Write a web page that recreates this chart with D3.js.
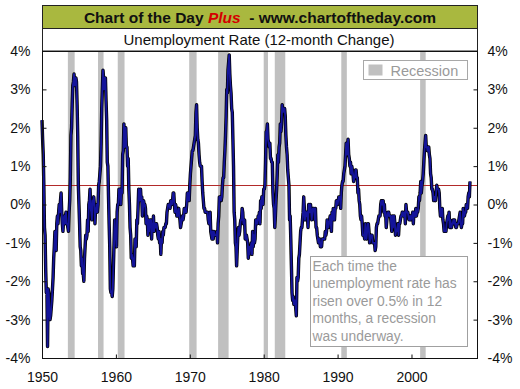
<!DOCTYPE html>
<html>
<head>
<meta charset="utf-8">
<script src="https://cdn.jsdelivr.net/npm/d3@7"></script>
<style>
  body { margin: 0; background: #fff; }
  svg { display: block; font-family: "Liberation Sans", Arial, sans-serif; }
</style>
</head>
<body>
<svg id="chart" width="520" height="389"></svg>
<script>
'use strict';

// 12-month change in the unemployment rate (percentage points), monthly from Jan 1950
var startYear = 1950;
var change12m = [
  2.2, 1.7, 1.3, 0.5, -0.6, -0.8, -1.7, -2.3, -2.2, -3.7, -2.2, -2.3,   // 1950
  -2.8, -3.0, -2.9, -2.7, -2.5, -2.2, -1.9, -1.4, -1.1, -0.7, -0.7, -1.2,
  -0.5, -0.3, -0.5, -0.2, 0.0, -0.2, 0.1, 0.3, -0.2, -0.5, -0.7, -0.4,
  -0.3, -0.5, -0.3, -0.2, -0.5, -0.5, -0.6, -0.7, -0.2, 0.1, 0.7, 1.8,
  2.0, 2.6, 3.1, 3.2, 3.4, 3.1, 3.2, 3.3, 3.2, 2.6, 1.8, 0.5,
  0.0, -0.5, -1.1, -1.2, -1.6, -1.4, -1.8, -1.8, -2.0, -1.4, -1.1, -0.8, // 1955
  -0.9, -0.8, -0.4, -0.7, 0.0, 0.1, 0.4, -0.1, -0.2, -0.4, 0.1, 0.0,
  0.2, 0.0, -0.5, -0.1, -0.2, 0.0, -0.2, 0.0, 0.5, 0.6, 0.8, 1.0,
  1.6, 2.5, 3.0, 3.5, 3.3, 3.0, 3.3, 3.3, 2.7, 2.2, 1.1, 1.0,
  0.2, -0.5, -1.1, -2.2, -2.3, -2.3, -2.4, -2.2, -1.6, -1.0, -0.4, -0.9,
  -0.8, -1.1, -0.2, 0.0, 0.0, 0.4, 0.4, 0.4, 0.0, 0.4, 0.3, 1.3,        // 1960
  1.4, 2.1, 1.5, 1.8, 2.0, 1.5, 1.5, 1.0, 1.2, 0.4, 0.0, -0.6,
  -0.8, -1.4, -1.3, -1.4, -1.6, -1.4, -1.6, -0.9, -1.1, -1.1, -0.4, -0.5,
  -0.1, 0.4, 0.1, 0.1, 0.4, 0.1, 0.2, -0.3, -0.1, 0.1, 0.0, 0.0,
  -0.1, -0.5, -0.3, -0.4, -0.8, -0.4, -0.7, -0.4, -0.4, -0.4, -0.9, -0.5,
  -0.7, -0.3, -0.7, -0.5, -0.5, -0.6, -0.5, -0.6, -0.8, -0.9, -0.7, -1.0, // 1965
  -0.9, -1.3, -0.9, -1.0, -0.7, -0.8, -0.6, -0.6, -0.6, -0.5, -0.5, -0.2,
  -0.1, 0.0, 0.0, 0.0, -0.1, 0.1, 0.0, 0.0, 0.1, 0.3, 0.3, 0.0,
  -0.2, 0.0, -0.1, -0.3, -0.3, -0.2, -0.1, -0.3, -0.4, -0.6, -0.5, -0.4,
  -0.3, -0.4, -0.3, -0.1, -0.1, -0.2, -0.2, 0.0, 0.3, 0.3, 0.1, 0.1,
  0.5, 0.8, 1.0, 1.2, 1.4, 1.4, 1.5, 1.6, 1.7, 1.8, 2.4, 2.6,           // 1970
  2.0, 1.7, 1.6, 1.3, 1.1, 1.0, 1.0, 1.0, 0.6, 0.3, 0.1, -0.1,
  -0.1, -0.2, -0.2, -0.2, -0.2, -0.2, -0.4, -0.5, -0.5, -0.2, -0.7, -0.8,
  -0.9, -0.7, -0.9, -0.7, -0.8, -0.8, -0.8, -0.8, -0.7, -1.0, -0.5, -0.3,
  0.2, 0.2, 0.2, 0.1, 0.2, 0.5, 0.7, 0.7, 1.1, 1.4, 1.8, 2.3,
  3.0, 2.9, 3.5, 3.7, 3.9, 3.4, 3.1, 2.9, 2.5, 2.4, 1.7, 1.0,           // 1975
  -0.2, -0.4, -1.0, -1.1, -1.6, -1.2, -0.8, -0.6, -0.8, -0.7, -0.5, -0.4,
  -0.4, -0.1, -0.2, -0.5, -0.4, -0.4, -0.9, -0.8, -0.8, -0.9, -1.0, -1.4,
  -1.1, -1.3, -1.1, -1.1, -1.0, -1.3, -0.7, -1.1, -0.8, -1.0, -0.9, -0.4,
  -0.5, -0.4, -0.5, -0.3, -0.4, -0.2, -0.5, 0.1, -0.1, 0.2, 0.0, 0.0,
  0.4, 0.4, 0.5, 1.1, 1.9, 1.9, 2.1, 1.7, 1.6, 1.5, 1.6, 1.2,           // 1980
  1.2, 1.1, 1.1, 0.3, 0.0, -0.1, -0.6, -0.3, 0.1, 0.4, 0.8, 1.3,
  1.1, 1.5, 1.6, 2.1, 1.9, 2.1, 2.6, 2.4, 2.5, 2.5, 2.5, 2.3,
  1.8, 1.5, 1.3, 0.9, 0.7, 0.5, -0.4, -0.3, -0.9, -1.6, -2.3, -2.5,
  -2.4, -2.6, -2.5, -2.5, -2.7, -2.9, -1.9, -2.0, -1.9, -1.4, -1.3, -1.0,
  -0.7, -0.6, -0.6, -0.4, -0.2, 0.2, -0.1, -0.4, -0.2, -0.3, -0.2, -0.3, // 1985
  -0.6, 0.0, 0.0, -0.2, 0.0, -0.2, -0.4, -0.2, -0.1, -0.1, -0.1, -0.4,
  -0.1, -0.6, -0.6, -0.8, -0.9, -1.0, -0.9, -0.9, -1.1, -1.0, -1.1, -0.9,
  -0.9, -0.9, -0.9, -0.9, -0.7, -0.8, -0.7, -0.4, -0.5, -0.6, -0.5, -0.4,
  -0.3, -0.5, -0.7, -0.2, -0.4, -0.1, -0.2, -0.4, -0.1, -0.1, 0.1, 0.1,
  0.0, 0.1, 0.2, 0.2, 0.2, -0.1, 0.3, 0.5, 0.6, 0.6, 0.8, 0.9,          // 1990
  1.0, 1.3, 1.6, 1.3, 1.5, 1.7, 1.3, 1.2, 1.0, 1.1, 0.8, 1.0,
  0.9, 0.8, 0.6, 0.7, 0.7, 0.9, 0.9, 0.7, 0.7, 0.3, 0.4, 0.1,
  0.0, -0.3, -0.4, -0.3, -0.5, -0.8, -0.8, -0.8, -0.9, -0.5, -0.8, -0.9,
  -0.7, -0.5, -0.5, -0.7, -1.0, -0.9, -0.8, -0.8, -0.8, -1.0, -1.0, -1.0,
  -1.0, -1.2, -1.1, -0.6, -0.5, -0.5, -0.4, -0.3, -0.3, -0.3, 0.0, 0.1, // 1995
  0.0, 0.1, 0.1, -0.2, 0.0, -0.3, -0.2, -0.6, -0.4, -0.3, -0.2, -0.2,
  -0.3, -0.3, -0.3, -0.5, -0.7, -0.3, -0.6, -0.3, -0.3, -0.5, -0.8, -0.7,
  -0.7, -0.6, -0.5, -0.8, -0.5, -0.5, -0.4, -0.3, -0.3, -0.2, -0.2, -0.3,
  -0.3, -0.2, -0.5, 0.0, -0.2, -0.2, -0.2, -0.3, -0.4, -0.4, -0.3, -0.4,
  -0.3, -0.3, -0.2, -0.5, -0.2, -0.3, -0.3, -0.1, -0.3, -0.2, -0.2, -0.1, // 2000
  0.2, 0.1, 0.3, 0.6, 0.3, 0.5, 0.6, 0.8, 1.1, 1.4, 1.6, 1.8,
  1.5, 1.5, 1.4, 1.5, 1.5, 1.3, 1.2, 0.8, 0.7, 0.4, 0.4, 0.3,
  0.1, 0.2, 0.2, 0.1, 0.3, 0.5, 0.4, 0.4, 0.4, 0.3, -0.1, -0.3,
  -0.1, -0.3, -0.1, -0.4, -0.5, -0.7, -0.7, -0.7, -0.7, -0.5, -0.4, -0.3,
  -0.4, -0.2, -0.6, -0.4, -0.5, -0.6, -0.5, -0.5, -0.4, -0.5, -0.4, -0.5, // 2005
  -0.6, -0.6, -0.5, -0.5, -0.5, -0.4, -0.3, -0.2, -0.5, -0.6, -0.5, -0.5,
  -0.1, -0.3, -0.3, -0.2, -0.2, 0.0, 0.0, -0.1, 0.2, 0.3, 0.2, 0.6
];

// NBER recessions, [start, end] as decimal years
var recessions = [
  [1953.50, 1954.42], [1957.58, 1958.33], [1960.25, 1961.17],
  [1969.92, 1970.92], [1973.83, 1975.25], [1980.00, 1980.58],
  [1981.50, 1982.92], [1990.50, 1991.25], [2001.17, 2001.92]
];

var threshold = 0.5;
var yTicks = [-4, -3, -2, -1, 0, 1, 2, 3, 4];
var xTicks = [1950, 1960, 1970, 1980, 1990, 2000];
var noteLines = ['Each time the', 'unemployment rate has', 'risen over 0.5% in 12', 'months, a recession', 'was underway.'];

var svg = d3.select('#chart');
var plotLeft = 42, plotRight = 478, plotTop = 51, plotBottom = 358;

var x = d3.scaleLinear().domain([1950, 2009]).range([plotLeft, plotRight]);
var y = d3.scaleLinear().domain([-4, 4]).range([plotBottom, plotTop]);

var points = change12m.map(function (v, i) {
  return { t: startYear + i / 12, v: v };
});

// title banner
svg.append('rect').attr('x', 42.5).attr('y', 5.5).attr('width', 435).attr('height', 23)
  .attr('fill', '#a9b83f').attr('stroke', '#222');
var title = svg.append('text').attr('x', 260).attr('y', 22.5).attr('text-anchor', 'middle')
  .attr('font-size', 15.5).attr('font-weight', 'bold').attr('fill', '#111');
title.append('tspan').text('Chart of the Day ');
title.append('tspan').attr('fill', '#d40000').attr('font-style', 'italic').text('Plus');
title.append('tspan').attr('xml:space', 'preserve').text('  - www.chartoftheday.com');

// subtitle box
svg.append('rect').attr('x', 42.5).attr('y', 28.5).attr('width', 435).attr('height', 22.5)
  .attr('fill', '#fff').attr('stroke', '#222');
svg.append('text').attr('x', 259).attr('y', 44.5).attr('text-anchor', 'middle')
  .attr('font-size', 15).attr('fill', '#111')
  .text('Unemployment Rate (12-month Change)');

// recession bands
svg.append('g').selectAll('rect').data(recessions).enter().append('rect')
  .attr('x', function (d) { return x(d[0]); })
  .attr('width', function (d) { return x(d[1]) - x(d[0]); })
  .attr('y', plotTop).attr('height', plotBottom - plotTop)
  .attr('fill', '#c0c0c0');

// 0.5% threshold line
var yThr = Math.round(y(threshold)) + 0.5;
svg.append('line')
  .attr('x1', plotLeft).attr('x2', plotRight)
  .attr('y1', yThr).attr('y2', yThr)
  .attr('stroke', '#b22a2a').attr('stroke-width', 1);

// series line: dark edge underneath, navy on top
var line = d3.line().x(function (d) { return x(d.t); }).y(function (d) { return y(d.v); });
svg.append('path').datum(points).attr('d', line)
  .attr('fill', 'none').attr('stroke', '#000').attr('stroke-width', 3.4).attr('stroke-linejoin', 'round');
svg.append('path').datum(points).attr('d', line)
  .attr('fill', 'none').attr('stroke', '#14149a').attr('stroke-width', 1.9).attr('stroke-linejoin', 'round');

// frame
svg.append('rect').attr('x', plotLeft + 0.5).attr('y', plotTop + 0.5)
  .attr('width', plotRight - plotLeft - 1).attr('height', plotBottom - plotTop)
  .attr('fill', 'none').attr('stroke', '#111');

// axes
var yLeft = d3.axisLeft(y).tickValues(yTicks).tickSize(-4).tickPadding(12)
  .tickFormat(function (d) { return d + '%'; });
var yRight = d3.axisRight(y).tickValues(yTicks).tickSize(-4).tickPadding(10)
  .tickFormat(function (d) { return d + '%'; });
var xAxis = d3.axisBottom(x).tickValues(xTicks).tickSize(-4).tickPadding(14)
  .tickFormat(d3.format('d'));

function styleAxis(g) {
  g.select('.domain').remove();
  g.selectAll('line').attr('stroke', '#111');
  g.selectAll('text').attr('font-size', 14).attr('fill', '#111')
    .attr('font-family', '"Liberation Sans", Arial, sans-serif');
}

svg.append('g').attr('transform', 'translate(' + (plotLeft + 0.5) + ',0)').call(yLeft).call(styleAxis);
svg.append('g').attr('transform', 'translate(' + (plotRight - 0.5) + ',0)').call(yRight).call(styleAxis);
svg.append('g').attr('transform', 'translate(0,' + (plotBottom + 0.5) + ')').call(xAxis).call(styleAxis);

// legend
var legend = svg.append('g').attr('transform', 'translate(363.5,60.5)');
legend.append('rect').attr('width', 104).attr('height', 19)
  .attr('fill', '#fff').attr('stroke', '#a8a8a8');
legend.append('rect').attr('x', 5).attr('y', 4).attr('width', 14).attr('height', 11).attr('fill', '#c0c0c0');
legend.append('text').attr('x', 27).attr('y', 15).attr('font-size', 14.5).attr('fill', '#9a9a9a')
  .text('Recession');

// annotation
var note = svg.append('g').attr('transform', 'translate(310.5,256.5)');
note.append('rect').attr('width', 157).attr('height', 90)
  .attr('fill', '#fff').attr('stroke', '#a0a0a0');
note.append('text').attr('font-size', 13.8).attr('fill', '#9a9a9a')
  .selectAll('tspan').data(noteLines).enter().append('tspan')
  .attr('x', 2).attr('y', function (d, i) { return 14 + i * 17.6; })
  .text(function (d) { return d; });
</script>
</body>
</html>
